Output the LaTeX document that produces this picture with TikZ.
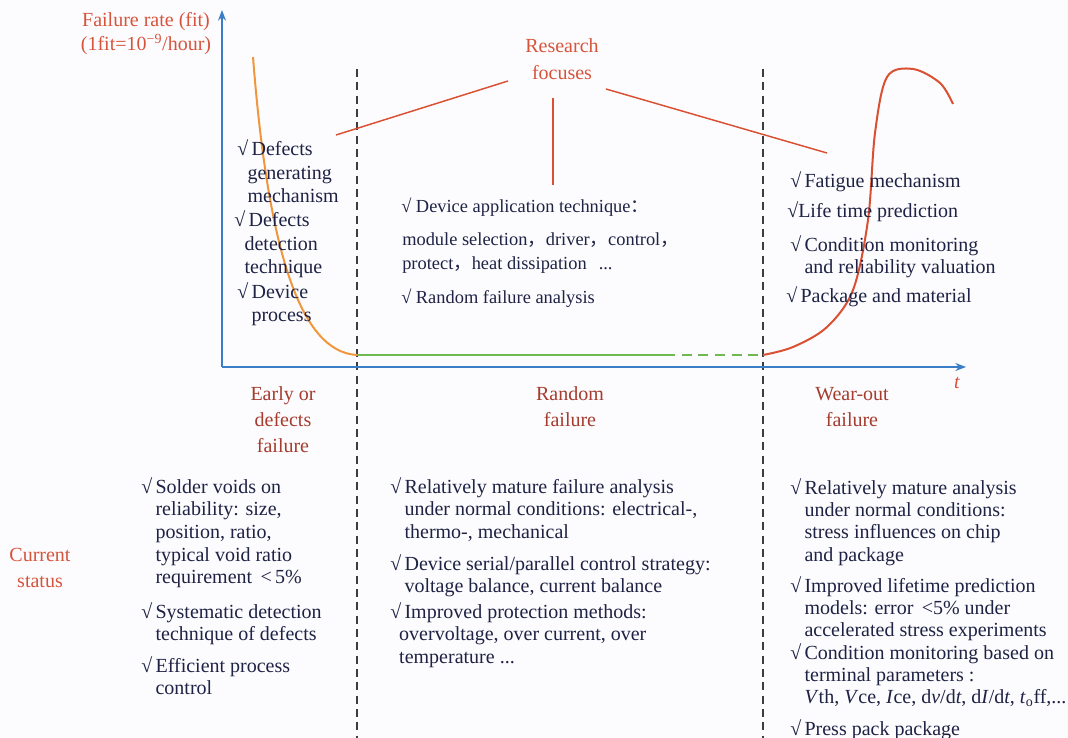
\documentclass[tikz,border=0pt]{standalone}
\usepackage{fontspec}
\setmainfont{Liberation Serif}
\newfontfamily\cjk{Noto Sans CJK SC}
\usetikzlibrary{arrows.meta}

\definecolor{bodytext}{RGB}{30,34,68}
\definecolor{phase}{RGB}{165,60,45}
\definecolor{headred}{RGB}{214,84,60}
\definecolor{axisblue}{RGB}{60,125,200}
\definecolor{earlyor}{RGB}{240,150,60}
\definecolor{wearred}{RGB}{218,80,50}
\definecolor{flatgreen}{RGB}{110,185,80}
\definecolor{divgray}{RGB}{60,60,60}
\definecolor{paper}{RGB}{252,252,254}

% check-marked item: tick in the first column, wrapped lines in the second
\newcommand{\chk}[1]{\begin{tabular}[t]{@{}l@{\hspace{2.5pt}}l@{}}√&#1\end{tabular}}
% centred stack of lines whose baseline is the first line
\newcommand{\stack}[1]{\begin{tabular}[t]{@{}c@{}}#1\end{tabular}}
\newcommand{\fw}[1]{{\cjk #1}}

\begin{document}
\begin{tikzpicture}[x=0.75pt,y=-0.75pt,
  body/.style={anchor=base west, inner sep=0pt, text=bodytext, font=\fontsize{15}{17}\selectfont},
  phaselabel/.style={anchor=base, inner sep=0pt, text=phase, font=\fontsize{15}{19.5}\selectfont},
  headlabel/.style={anchor=base, inner sep=0pt, text=headred, font=\fontsize{15}{20}\selectfont},
  axis/.style={draw=axisblue, line width=1.1pt, -{Stealth[length=8pt,width=6pt]}},
  divider/.style={draw=divgray, line width=1.1pt, dash pattern=on 6pt off 4pt},
  focusline/.style={draw=wearred, line width=1.1pt},
  curve/.style={line width=1.5pt},
]
\fill[paper] (0,0) rectangle (1068,738);
\useasboundingbox (0,0) rectangle (1068,738);

% phase dividers
\coordinate (d1top) at (357,69);  \coordinate (d1bot) at (357,745);
\coordinate (d2top) at (763,69);  \coordinate (d2bot) at (763,745);
\draw[divider] (d1top) -- (d1bot);
\draw[divider] (d2top) -- (d2bot);

% axes
\coordinate (O) at (222,367);
\coordinate (ytip) at (222,10);
\coordinate (xtip) at (966,367);
\draw[axis] (O) -- (ytip);
\draw[axis] (O) -- (xtip);

% bathtub curve
\coordinate (e0) at (253,57);
\coordinate (e1) at (357,355);
\coordinate (g1) at (665,355);
\coordinate (w0) at (763,355);
\draw[curve, earlyor] (e0) .. controls (268,250) and (300,352) .. (e1);
\draw[curve, flatgreen] (e1) -- (g1);
\draw[curve, flatgreen, dash pattern=on 7.5pt off 5pt] (g1) -- (w0);
\draw[curve, wearred] plot[smooth, tension=0.55] coordinates
  {(763,355) (793,347) (827,327) (853,290) (868,220) (875,133) (887,77) (913,69) (940,83) (953,104)};

% axis labels
\node[headlabel, font=\fontsize{15}{17.25}\selectfont] (ylab) at (146,27)
  {\stack{Failure rate (fit)\\(1fit=10\textsuperscript{−9}/hour)}};
\node[headlabel, font=\fontsize{15}{18}\selectfont\itshape] (tlab) at (957,388) {t};

% research focuses
\node[headlabel, font=\fontsize{15}{20.25}\selectfont] (focus) at (562,53) {\stack{Research\\focuses}};
\coordinate (fl0) at (508,81);  \coordinate (fl1) at (336,135);
\coordinate (fm0) at (553,98);  \coordinate (fm1) at (553,185);
\coordinate (fr0) at (606,89);  \coordinate (fr1) at (827,153);
\draw[focusline] (fl0) -- (fl1);
\draw[focusline] (fm0) -- (fm1);
\draw[focusline] (fr0) -- (fr1);

% focus items, early stage
\begin{scope}[body/.append style={font=\fontsize{15}{17.6}\selectfont}]
\node[body] (fe1) at (237,156) {\chk{Defects\\&\hspace*{-3pt}generating\\&\hspace*{-3pt}mechanism}};
\node[body] (fe2) at (234,227) {\chk{Defects\\&\hspace*{-3pt}detection\\&\hspace*{-3pt}technique}};
\node[body] (fe3) at (237,298) {\chk{Device\\&process}};
\end{scope}

% focus items, random stage
\begin{scope}[body/.append style={font=\fontsize{13.8}{17}\selectfont}]
\node[body] (fm1t) at (401,213) {√ Device application technique\fw{：}};
\node[body] (fm2t) at (402,246) {module selection\fw{，}driver\fw{，}control\fw{，}};
\node[body] (fm3t) at (402,269) {protect\fw{，}heat dissipation\hspace{9pt}...};
\node[body] (fm4t) at (401,303) {√ Random failure analysis};
\end{scope}

% focus items, wear-out stage
\node[body] (fw1) at (790,188) {\chk{Fatigue mechanism}};
\node[body] (fw2) at (787,218) {√Life time prediction};
\node[body, font=\fontsize{15}{16.5}\selectfont] (fw3) at (790,252) {\chk{Condition monitoring\\&and reliability valuation}};
\node[body] (fw4) at (786,302) {\chk{Package and material}};

% phase names
\node[phaselabel] (ph1) at (283,400) {\stack{Early or\\defects\\failure}};
\node[phaselabel] (ph2) at (570,400) {\stack{Random\\failure}};
\node[phaselabel] (ph3) at (852,400) {\stack{Wear-out\\failure}};

% current status
\node[headlabel, font=\fontsize{15}{19.5}\selectfont] (status) at (40,561) {\stack{Current\\status}};

\node[body] (s11) at (141,493) {\chk{Solder voids on\\&reliability: size,\\&position, ratio,\\&typical void ratio\\&requirement \,{<}\,5\%}};
\node[body] (s12) at (141,618) {\chk{Systematic detection\\&technique of defects}};
\node[body] (s13) at (141,672) {\chk{Efficient process\\&control}};

\node[body] (s21) at (390,493) {\chk{Relatively mature failure analysis\\&under normal conditions: electrical-,\\&thermo-, mechanical}};
\node[body] (s22) at (390,570) {\chk{Device serial/parallel control strategy:\\&voltage balance, current balance}};
\node[body] (s23) at (390,618) {\chk{Improved protection methods:\\&\hspace*{-4pt}overvoltage, over current, over\\&\hspace*{-4pt}temperature ...}};

\begin{scope}[body/.append style={font=\fontsize{15}{16.75}\selectfont}]
\node[body] (s31) at (790,494) {\chk{Relatively mature analysis\\&under normal conditions:\\&stress influences on chip\\&and package}};
\node[body] (s32) at (790,592) {\chk{Improved lifetime prediction\\&models: error \,{<}5\% under\\&accelerated stress experiments}};
\node[body] (s33) at (790,659) {\chk{Condition monitoring based on\\&terminal parameters :\\&\textit{V}th, \textit{V}ce, \textit{I}ce, d\textit{v}/d\textit{t}, d\textit{I}/d\textit{t}, \textit{t}\textsubscript{o}ff,...}};
\node[body] (s34) at (790,735) {\chk{Press pack package}};
\end{scope}
\end{tikzpicture}
\end{document}
